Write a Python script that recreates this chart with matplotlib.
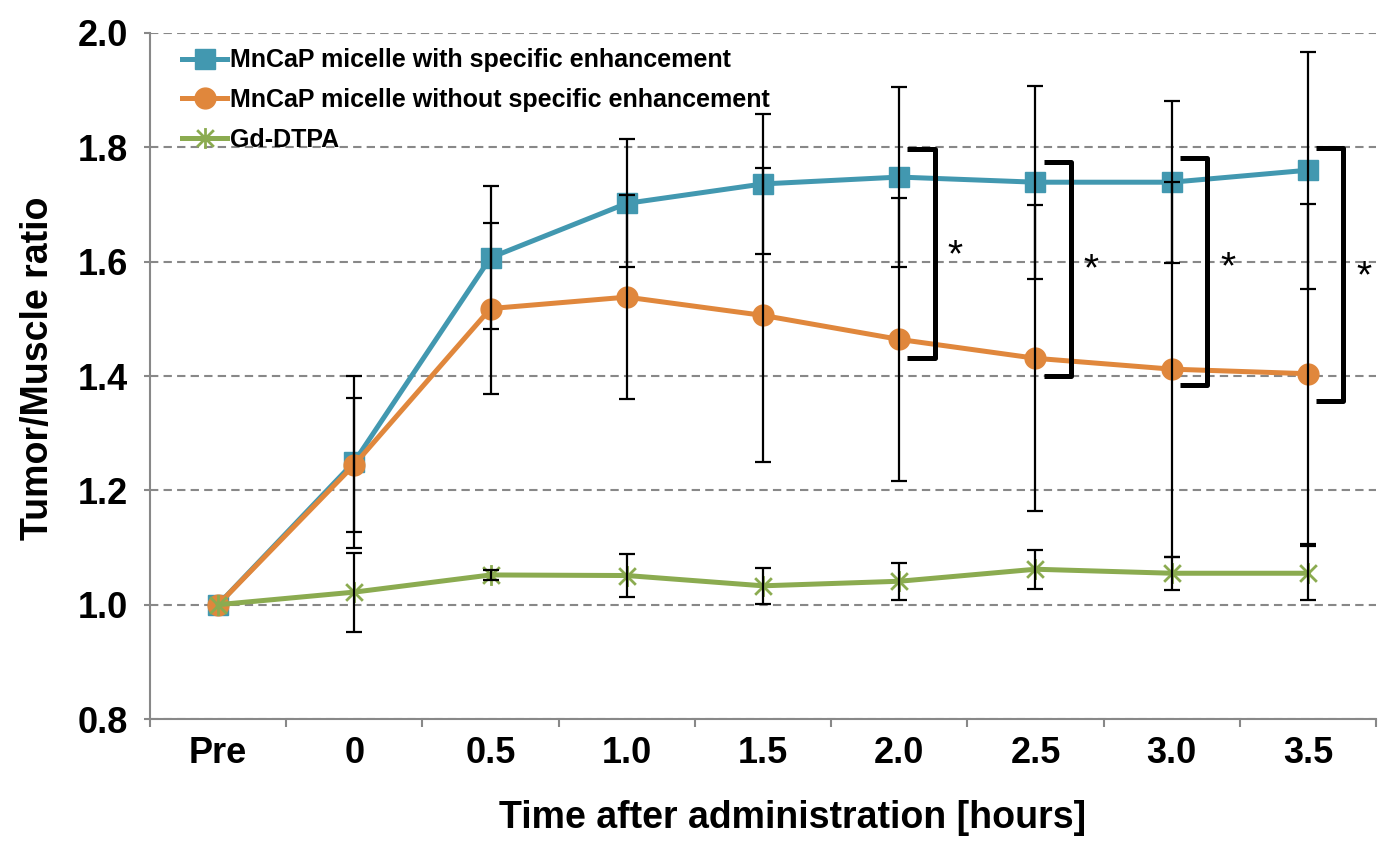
import numpy as np
import matplotlib
matplotlib.use("Agg")
import matplotlib.pyplot as plt
from matplotlib.path import Path

plt.rcParams['font.family'] = ['Liberation Sans', 'DejaVu Sans']
plt.rcParams['font.weight'] = 'bold'

times = ['Pre', '0', '0.5', '1.0', '1.5', '2.0', '2.5', '3.0', '3.5']

with_enh = [1.0, 1.25, 1.607, 1.702, 1.736, 1.748, 1.739, 1.739, 1.760]
with_err = [0, 0.150, 0.125, 0.112, 0.122, 0.157, 0.169, 0.142, 0.207]

without_enh = [1.0, 1.245, 1.518, 1.538, 1.506, 1.464, 1.431, 1.412, 1.404]
without_err = [0, 0.117, 0.150, 0.179, 0.257, 0.248, 0.268, 0.328, 0.297]

gd = [1.0, 1.022, 1.052, 1.051, 1.033, 1.041, 1.062, 1.055, 1.055]
gd_err = [0, 0.069, 0.009, 0.037, 0.032, 0.032, 0.034, 0.029, 0.047]

# significance brackets: (category index, top, bottom, star y)
sig_idx = [5, 6, 7, 8]
sig_top = [1.797, 1.774, 1.781, 1.798]
sig_bot = [1.432, 1.400, 1.384, 1.356]
sig_star = [1.61, 1.585, 1.588, 1.573]

blue = '#4298B0'
orange = '#E0873C'
green = '#8BAB50'

# asterisk marker: X with a vertical bar
star = Path([(-1, -1), (1, 1), (-1, 1), (1, -1), (0, -1.25), (0, 1.25)],
            [Path.MOVETO, Path.LINETO, Path.MOVETO, Path.LINETO, Path.MOVETO, Path.LINETO])

fig = plt.figure(figsize=(13.99, 8.57), dpi=100)
ax = fig.add_axes([0.1072, 0.161, 0.8764, 0.8005])

x = np.arange(len(times))

ax.plot(x, with_enh, color=blue, lw=3.6, marker='s', ms=15, zorder=3,
        label='MnCaP micelle with specific enhancement')
ax.plot(x, without_enh, color=orange, lw=3.6, marker='o', ms=15, zorder=4,
        label='MnCaP micelle without specific enhancement')
ax.plot(x, gd, color=green, lw=3.6, marker=star, ms=15, mew=2, zorder=5,
        label='Gd-DTPA')

for vals, errs in [(with_enh, with_err), (without_enh, without_err), (gd, gd_err)]:
    ax.errorbar(x[1:], vals[1:], yerr=errs[1:], fmt='none', ecolor='black',
                elinewidth=1.6, capsize=6, capthick=1.6, zorder=6)

for i, t, b, s in zip(sig_idx, sig_top, sig_bot, sig_star):
    ax.plot([i + 0.06, i + 0.26, i + 0.26, i + 0.06], [t, t, b, b],
            color='black', lw=3.6, solid_joinstyle='round', solid_capstyle='butt', zorder=7)
    ax.text(i + 0.41, s, '*', fontsize=28, fontweight='normal', ha='center', va='center', zorder=7)

ax.set_xlim(-0.5, 8.5)
ax.set_ylim(0.8, 2.0)
ax.set_yticks(np.arange(0.8, 2.01, 0.2))
ax.set_yticklabels(['%.1f' % v for v in np.arange(0.8, 2.01, 0.2)])
ax.set_xticks(x)
ax.set_xticklabels(times)
ax.set_xticks(np.arange(-0.5, 9, 1), minor=True)
ax.tick_params(axis='x', which='major', length=0, pad=12, labelsize=26)
ax.tick_params(axis='x', which='minor', length=6, width=1.5, color='#888888')
ax.tick_params(axis='y', length=4, width=1.5, color='#888888', pad=12, labelsize=26)

ax.yaxis.grid(True, linestyle=(0, (4, 2.5)), color='#888888', lw=1.5)
ax.set_axisbelow(True)
for sp in ['top', 'right']:
    ax.spines[sp].set_visible(False)
for sp in ['left', 'bottom']:
    ax.spines[sp].set_color('#888888')
    ax.spines[sp].set_linewidth(1.5)

ax.set_xlabel('Time after administration [hours]', fontsize=27, fontweight='bold')
ax.set_ylabel('Tumor/Muscle ratio', fontsize=27, fontweight='bold')
ax.xaxis.set_label_coords(0.524, -0.118)
ax.yaxis.set_label_coords(-0.077, 0.512)

leg = ax.legend(loc='upper left', bbox_to_anchor=(0.018, 0.992), frameon=False,
                fontsize=18, handlelength=1.8, handletextpad=0.1, labelspacing=0.63,
                borderaxespad=0)

fig.savefig('out.png', dpi=100)
